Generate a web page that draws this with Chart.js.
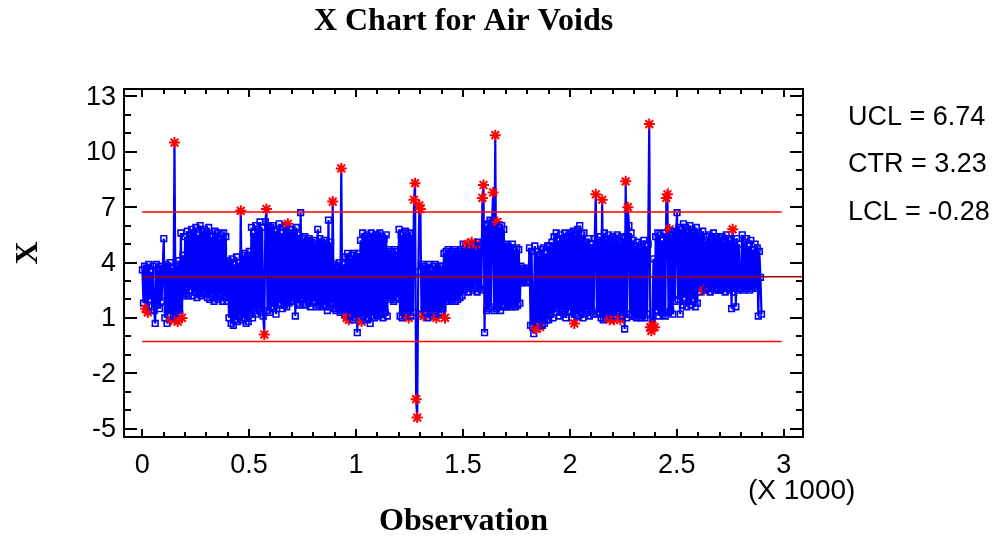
<!DOCTYPE html>
<html>
<head>
<meta charset="utf-8">
<script src="https://cdn.jsdelivr.net/npm/chart.js@4"></script>
<style>
  html, body { margin: 0; padding: 0; background: #fff; }
  #wrap { width: 997px; height: 540px; position: relative; }
</style>
</head>
<body>
<div id="wrap"><canvas id="c" width="997" height="540"></canvas></div>
<script>
// ---- chart texts ----
const chartTitle = 'X Chart for Air Voids';
const xTitle = 'Observation';
const yTitle = 'X';
const xMultiplier = '(X 1000)';

// ---- control limits ----
const UCL = 6.74;
const CTR = 3.23;
const LCL = -0.28;
const limitLabels = ['UCL = 6.74', 'CTR = 3.23', 'LCL = -0.28'];

// ---- axes ----
const xTickValues = [0, 500, 1000, 1500, 2000, 2500, 3000];
const xTickLabels = ['0', '0.5', '1', '1.5', '2', '2.5', '3'];
const yTickValues = [-5, -2, 1, 4, 7, 10, 13];
const yTickLabels = ['-5', '-2', '1', '4', '7', '10', '13'];

// ---- observations (read every 5th observation) ----
const obsStep = 5;
const airVoids = [
  3.6, 1.8, 3.8, 1.5, 3.7, 1.3, 3.9, 2.0, 3.5, 1.6, 3.8, 1.4, 0.7, 3.9, 1.7, 3.6, 1.5, 3.8, 1.9, 3.7,
  5.3, 1.0, 3.9, 0.7, 3.8, 1.2, 4.0, 0.9, 3.7, 1.1, 10.5, 1.0, 3.9, 0.8, 4.1, 1.2, 5.6, 1.0, 4.4, 2.2,
  5.4, 2.3, 5.7, 2.2, 5.5, 2.5, 5.8, 2.2, 5.6, 2.4, 5.9, 2.1, 5.5, 2.3, 6.0, 2.2, 5.7, 2.4, 5.8, 2.3,
  5.6, 2.1, 5.9, 2.0, 5.4, 2.2, 5.5, 1.9, 5.7, 2.1, 5.6, 2.0, 5.3, 2.2, 5.5, 1.9, 5.6, 2.1, 5.4, 1.9,
  4.1, 1.0, 4.0, 0.7, 4.2, 0.6, 3.9, 0.9, 4.3, 0.8, 4.0, 1.1, 6.8, 0.9, 4.4, 1.0, 4.5, 0.7, 4.3, 0.8,
  4.6, 1.2, 5.9, 1.0, 5.6, 1.4, 6.0, 1.2, 5.8, 1.5, 6.2, 1.3, 5.9, 1.1, 0.1, 6.2, 6.9, 1.4, 6.0, 1.3,
  5.9, 1.6, 6.0, 1.5, 5.7, 1.2, 5.8, 1.7, 6.1, 1.8, 5.6, 1.5, 5.9, 1.7, 6.0, 1.6, 6.1, 1.8, 5.8, 1.9,
  5.8, 1.9, 5.6, 1.1, 5.9, 1.8, 5.5, 1.7, 6.7, 2.0, 5.3, 1.8, 5.4, 1.7, 5.2, 1.9, 5.3, 1.6, 5.1, 1.8,
  5.2, 1.9, 5.0, 1.6, 5.8, 1.7, 5.3, 1.8, 5.1, 1.6, 5.2, 1.7, 5.0, 1.4, 6.3, 1.6, 5.1, 1.8, 7.3, 1.5,
  3.9, 1.4, 3.8, 1.5, 4.0, 1.3, 9.1, 1.4, 3.9, 1.2, 4.3, 1.0, 4.5, 0.9, 4.2, 1.1, 4.4, 0.9, 4.5, 1.0,
  4.3, 0.2, 4.5, 1.0, 5.2, 0.8, 5.6, 1.1, 5.4, 0.9, 5.5, 1.0, 5.3, 0.7, 5.6, 1.1, 5.4, 1.0, 5.5, 1.2,
  5.5, 1.1, 5.6, 1.2, 5.4, 1.0, 5.3, 1.3, 5.5, 1.1, 4.7, 2.0, 4.6, 2.1, 4.5, 1.9, 4.7, 2.0, 4.6, 2.1,
  5.8, 1.1, 5.5, 1.0, 5.6, 1.2, 5.7, 1.1, 5.4, 1.0, 5.6, 1.1, 5.5, 1.3, 7.4, 8.3, -3.4, -4.4, 3.5, 7.1,
  6.9, 1.2, 3.9, 1.1, 3.8, 1.3, 3.7, 1.0, 3.9, 1.2, 3.6, 1.1, 3.8, 1.3, 3.9, 1.0, 3.7, 1.2, 3.8, 1.3,
  3.8, 1.5, 4.5, 1.0, 4.6, 1.9, 4.7, 2.0, 4.5, 1.9, 4.6, 2.1, 4.7, 1.9, 4.5, 2.0, 4.6, 2.1, 4.7, 2.2,
  5.0, 2.5, 4.9, 2.6, 5.0, 2.4, 4.8, 2.6, 5.1, 2.5, 4.9, 2.7, 5.0, 2.4, 5.1, 2.6, 4.9, 2.5, 7.5, 8.2,
  0.2, 6.0, 1.4, 6.1, 1.5, 6.3, 1.6, 6.2, 7.8, 1.4, 10.9, 1.5, 6.2, 1.6, 5.9, 1.4, 6.0, 1.7, 5.8, 1.6,
  5.0, 1.6, 4.9, 1.7, 4.8, 1.6, 5.0, 1.8, 4.7, 1.6, 4.8, 1.7, 4.7, 1.8, 3.8, 2.9, 3.7, 3.0, 3.6, 2.9,
  3.7, 3.0, 4.8, 0.6, 4.6, 0.5, 0.15, 4.9, 0.4, 4.6, 0.7, 4.4, 0.5, 4.7, 0.6, 4.8, 0.7, 4.5, 0.9, 4.9,
  0.9, 4.9, 1.2, 5.1, 1.0, 5.4, 1.3, 5.6, 1.5, 5.2, 1.1, 5.5, 1.4, 5.3, 1.2, 5.6, 1.0, 5.4, 1.3, 5.5,
  1.4, 5.6, 1.0, 5.7, 0.7, 5.5, 1.2, 5.8, 1.1, 6.0, 1.3, 5.5, 1.0, 5.6, 1.2, 5.1, 1.4, 5.3, 1.1, 5.0,
  1.4, 5.0, 1.2, 5.3, 7.7, 1.2, 5.2, 1.3, 5.4, 1.0, 7.4, 0.9, 5.6, 1.0, 5.3, 1.2, 5.5, 0.9, 5.2, 1.1,
  5.4, 0.9, 5.3, 1.1, 5.5, 1.3, 5.2, 0.9, 5.4, 1.1, 5.3, 0.4, 8.4, 1.0, 7.0, 6.0, 1.2, 5.6, 1.1, 5.2,
  1.1, 4.9, 1.0, 5.1, 1.2, 4.8, 1.0, 5.0, 1.1, 5.2, 1.0, 4.9, 1.2, 5.0, 11.5, 0.5, 0.3, 0.6, 4.2, 0.5,
  5.4, 1.4, 5.6, 1.1, 5.5, 1.3, 5.2, 1.2, 5.6, 1.1, 7.5, 7.7, 1.3, 5.8, 1.4, 5.5, 1.2, 5.7, 1.9, 5.6,
  6.7, 2.0, 5.9, 1.2, 5.8, 1.7, 6.1, 2.1, 5.9, 1.6, 5.7, 1.9, 6.0, 1.7, 5.8, 2.0, 5.6, 1.6, 5.9, 1.8,
  5.6, 2.4, 5.5, 2.6, 5.7, 2.5, 5.2, 2.5, 5.4, 2.6, 5.5, 2.4, 5.3, 2.6, 5.6, 2.5, 5.4, 2.6, 5.2, 2.5,
  5.3, 2.5, 5.4, 2.6, 5.2, 2.4, 5.5, 2.6, 5.3, 2.5, 5.2, 1.5, 5.8, 2.4, 5.1, 1.6, 5.3, 2.5, 5.0, 2.6,
  2.6, 5.5, 2.5, 5.1, 2.6, 5.3, 2.7, 4.9, 2.5, 5.2, 2.6, 4.7, 2.7, 5.0, 2.6, 4.8, 1.1, 4.6, 3.2, 1.2
];
// points flagged by run rules (red asterisks), in addition to points beyond the control limits
const runRuleFlags = [3, 5, 27, 33, 37, 114, 136, 191, 193, 205, 249, 263, 275, 283, 304, 308, 312,
  332, 368, 372, 404, 437, 441, 447, 475, 476, 477, 479, 493, 525, 552];

const limitLineEnd = 2990;
const centerLineEnd = 3090;

const points = airVoids.map((v, i) => ({ x: 1 + i * obsStep, y: v }));
const flagSet = new Set(runRuleFlags);
const isFlagged = (i) => {
  const v = airVoids[i];
  return v > UCL || v < LCL || flagSet.has(i);
};

const BLUE = '#0000ff';
const RED = '#ff0000';
const DARKRED = '#a00000';
const SANS = '"Liberation Sans", Arial, Helvetica, sans-serif';
const SERIF = '"Liberation Serif", "Times New Roman", Times, serif';

const framePlugin = {
  id: 'frame',
  afterDraw(chart) {
    const { ctx, chartArea: a, scales: { x, y } } = chart;
    ctx.save();
    ctx.strokeStyle = '#000';
    ctx.lineWidth = 2;
    ctx.strokeRect(a.left, a.top, a.right - a.left, a.bottom - a.top);

    const seg = (x1, y1, x2, y2) => { ctx.beginPath(); ctx.moveTo(x1, y1); ctx.lineTo(x2, y2); ctx.stroke(); };
    // y ticks (major every 3, minor every 1), inward on both sides
    for (let v = -5; v <= 13; v++) {
      const py = Math.round(y.getPixelForValue(v));
      const L = yTickValues.includes(v) ? 13 : 7;
      seg(a.left, py, a.left + L, py);
      seg(a.right, py, a.right - L, py);
    }
    // x ticks (major every 500, minor every 100), inward top and bottom
    for (let v = 0; v <= 3000; v += 100) {
      const px = Math.round(x.getPixelForValue(v));
      const L = xTickValues.includes(v) ? 8 : 5;
      seg(px, a.bottom, px, a.bottom - L);
      seg(px, a.top, px, a.top + L);
    }

    ctx.fillStyle = '#000';
    // y tick labels
    ctx.font = '27px ' + SANS;
    ctx.textAlign = 'right';
    ctx.textBaseline = 'middle';
    yTickValues.forEach((v, i) => ctx.fillText(yTickLabels[i], a.left - 8, y.getPixelForValue(v) + 1));
    // x tick labels
    ctx.textAlign = 'center';
    xTickValues.forEach((v, i) => ctx.fillText(xTickLabels[i], x.getPixelForValue(v), 466));
    // multiplier
    ctx.textAlign = 'left';
    ctx.font = '28px ' + SANS;
    ctx.fillText(xMultiplier, 748, 491);

    // limit labels
    ctx.font = '27px ' + SANS;
    ctx.textAlign = 'left';
    ctx.fillText(limitLabels[0], 848, 118);
    ctx.fillText(limitLabels[1], 848, 165);
    ctx.fillText(limitLabels[2], 848, 213);

    // titles
    const cx = (a.left + a.right) / 2;
    ctx.font = 'bold 32px ' + SERIF;
    ctx.textAlign = 'center';
    ctx.fillText(chartTitle, cx, 22);
    ctx.fillText(xTitle, cx, 522);
    ctx.save();
    ctx.translate(29, 253);
    ctx.rotate(-Math.PI / 2);
    ctx.fillText(yTitle, 0, 0);
    ctx.restore();
    ctx.restore();
  }
};

new Chart(document.getElementById('c'), {
  type: 'scatter',
  data: {
    datasets: [
      {
        label: 'CTR',
        data: [{ x: 0, y: CTR }, { x: centerLineEnd, y: CTR }],
        showLine: true, borderColor: DARKRED, borderWidth: 1.6, pointRadius: 0, order: 0
      },
      {
        label: 'UCL',
        data: [{ x: 0, y: UCL }, { x: limitLineEnd, y: UCL }],
        showLine: true, borderColor: RED, borderWidth: 1.6, pointRadius: 0, order: 0
      },
      {
        label: 'LCL',
        data: [{ x: 0, y: LCL }, { x: limitLineEnd, y: LCL }],
        showLine: true, borderColor: RED, borderWidth: 1.6, pointRadius: 0, order: 0
      },
      {
        label: 'Air Voids',
        data: points,
        showLine: true,
        borderColor: BLUE,
        borderWidth: 2.2,
        order: 1,
        pointStyle: (c) => isFlagged(c.dataIndex) ? 'star' : 'rect',
        pointRadius: (c) => isFlagged(c.dataIndex) ? 5.5 : 4,
        pointBorderColor: (c) => isFlagged(c.dataIndex) ? RED : BLUE,
        pointBackgroundColor: 'rgba(0,0,0,0)',
        pointBorderWidth: (c) => isFlagged(c.dataIndex) ? 2 : 1.6
      }
    ]
  },
  options: {
    responsive: false,
    animation: false,
    events: [],
    layout: { padding: { left: 124, right: 194, top: 89, bottom: 103 } },
    plugins: { legend: { display: false }, tooltip: { enabled: false }, title: { display: false } },
    scales: {
      x: { type: 'linear', min: -85, max: 3090, display: false },
      y: { type: 'linear', min: -5.45, max: 13.4, display: false }
    }
  },
  plugins: [framePlugin]
});
</script>
</body>
</html>
